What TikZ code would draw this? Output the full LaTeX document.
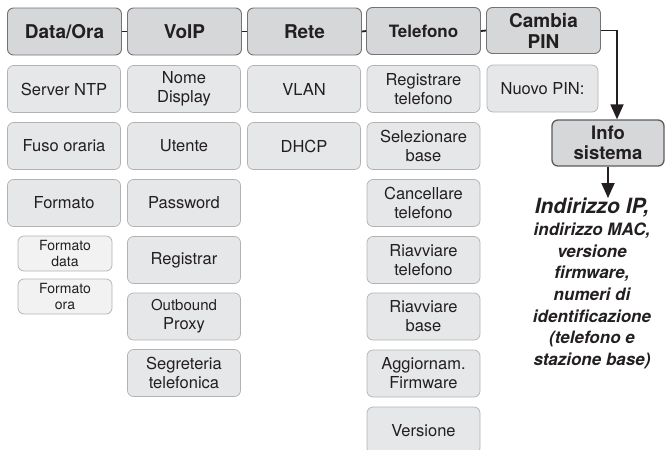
\documentclass[tikz,border=0pt]{standalone}
\usepackage{fontspec}
\setmainfont{TeX Gyre Heros}
\usetikzlibrary{arrows.meta}
\definecolor{menugray}{RGB}{214, 215, 216}
\definecolor{itemgray}{RGB}{230, 231, 232}
\definecolor{subgray}{RGB}{242, 242, 243}
\definecolor{menuedge}{RGB}{115, 115, 118}
\definecolor{itemedge}{RGB}{178, 178, 180}
\definecolor{inkgray}{RGB}{35, 31, 32}

\begin{document}
\begin{tikzpicture}[
  x=1pt, y=-1pt,
  every node/.style={text=inkgray, align=center, inner sep=0pt},
  menu/.style={draw=menuedge, line width=0.9pt, fill=menugray, rounded corners=6pt, minimum width=114pt, minimum height=47pt, font=\fontsize{19}{21}\selectfont\bfseries},
  item/.style={draw=itemedge, line width=0.7pt, fill=itemgray, rounded corners=6pt, minimum width=113pt, minimum height=47pt, font=\fontsize{16.5}{19}\selectfont},
  subitem/.style={item, fill=subgray, minimum width=94pt, minimum height=35pt, font=\fontsize{14}{15.5}\selectfont},
  link/.style={draw=inkgray, line width=1.8pt},
  pointer/.style={link, -{Triangle[width=13pt,length=15pt]}}
]
\clip (0,0) rectangle (665,450);

% Menu headers
\node[menu] (dataora) at (64.5, 31.5) {Data/Ora};
\node[menu] (voip) at (184.5, 31.5) {VoIP};
\node[menu] (rete) at (304.5, 31.5) {Rete};
\node[menu, font=\fontsize{17}{19}\selectfont\bfseries] (telefono) at (423.5, 31) {Telefono};
\node[menu, minimum height=46pt] (cambiapin) at (543.5, 30.5) {Cambia\\PIN};
\draw[link] (dataora.east) -- (voip.west);
\draw[link] (voip.east) -- (rete.west);
\draw[link] (rete.east) -- (telefono.west);
\draw[link] (telefono.east) -- (cambiapin.west);

% Data/Ora
\node[item] (ntp) at (64, 89) {Server NTP};
\node[item] (fuso) at (64, 146) {Fuso oraria};
\node[item] (formato) at (64, 203) {Formato};
\node[subitem] (fdata) at (65, 253.5) {Formato\\data};
\node[subitem] (fora) at (65, 296.5) {Formato\\ora};

% VoIP
\node[item] (nome) at (184, 89) {Nome\\Display};
\node[item] (utente) at (184, 146) {Utente};
\node[item] (password) at (184, 203) {Password};
\node[item] (registrar) at (184, 260) {Registrar};
\node[item] (proxy) at (184, 316.5) {{\fontsize{15}{18}\selectfont Outbound}\\Proxy};
\node[item] (segreteria) at (184, 373) {Segreteria\\telefonica};

% Rete
\node[item] (vlan) at (304, 89) {VLAN};
\node[item] (dhcp) at (304, 146) {DHCP};

% Telefono
\node[item] (regtel) at (423.5, 89) {Registrare\\telefono};
\node[item] (selbase) at (423.5, 146) {Selezionare\\base};
\node[item] (canctel) at (423.5, 203) {Cancellare\\telefono};
\node[item] (riavtel) at (423.5, 260) {Riavviare\\telefono};
\node[item] (riavbase) at (423.5, 316.5) {Riavviare\\base};
\node[item] (firmware) at (423.5, 373.5) {Aggiornam.\\Firmware};
\node[item] (versione) at (423.5, 430.5) {Versione};

% Cambia PIN
\node[item, minimum width=111pt] (nuovopin) at (542.5, 88.5) {Nuovo PIN:};

% Info sistema
\node[menu, draw=menuedge!80!black, line width=1.3pt, minimum width=112pt, minimum height=46pt, font=\fontsize{18.5}{20.5}\selectfont\bfseries] (info) at (608, 143) {Info\\sistema};
\node[anchor=north, font=\fontsize{17}{21.7}\selectfont\bfseries\itshape] (infotext) at (592, 198)
  {{\fontsize{21}{23}\selectfont Indirizzo IP,}\\indirizzo MAC,\\versione\\firmware,\\numeri di\\identificazione\\(telefono e\\stazione base)};

% Arrows
\draw[pointer] (cambiapin.east) -| ([xshift=9pt]info.north);
\draw[pointer] (info.south) -- (info.south |- infotext.north);
\end{tikzpicture}
\end{document}
